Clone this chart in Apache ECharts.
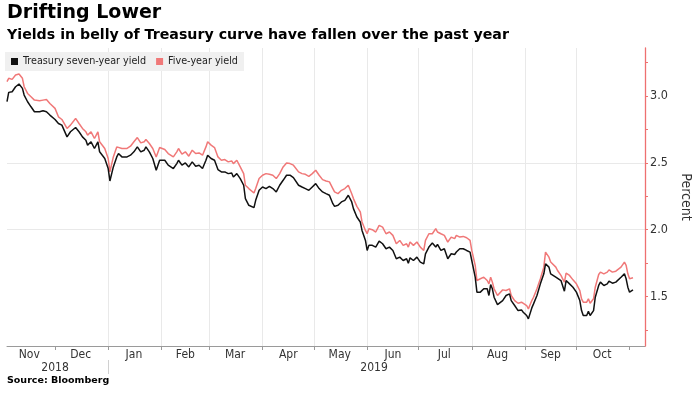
<!DOCTYPE html>
<html>
<head>
<meta charset="utf-8">
<script src="https://cdn.jsdelivr.net/npm/echarts@6/dist/echarts.min.js"></script>
<style>
html,body{margin:0;padding:0;background:#fff;}
#chart{width:692px;height:395px;}
</style>
</head>
<body>
<div id="chart"></div>
<script>
// ---- Data ----
const dates = [
'2018-11-03','2018-11-04','2018-11-06','2018-11-08','2018-11-10','2018-11-12','2018-11-13','2018-11-15','2018-11-17','2018-11-19','2018-11-20','2018-11-22','2018-11-24','2018-11-26','2018-11-28',
'2018-12-01','2018-12-03','2018-12-05','2018-12-08','2018-12-10','2018-12-13','2018-12-15','2018-12-17','2018-12-19','2018-12-20','2018-12-22','2018-12-24','2018-12-26','2018-12-27','2018-12-30',
'2019-01-01','2019-01-02','2019-01-04','2019-01-06','2019-01-07','2019-01-09','2019-01-10','2019-01-12','2019-01-14','2019-01-16','2019-01-18','2019-01-20','2019-01-22','2019-01-23','2019-01-25','2019-01-27','2019-01-29','2019-01-31',
'2019-02-03','2019-02-05','2019-02-06',
'2019-02-08','2019-02-10','2019-02-11','2019-02-13','2019-02-15','2019-02-17','2019-02-19','2019-02-21','2019-02-23','2019-02-25',
'2019-02-27','2019-02-28',
'2019-03-02','2019-03-04','2019-03-06','2019-03-08','2019-03-10','2019-03-12','2019-03-14','2019-03-15','2019-03-17','2019-03-19',
'2019-03-21','2019-03-22','2019-03-24','2019-03-25','2019-03-27','2019-03-28',
'2019-03-30','2019-04-01','2019-04-03','2019-04-05','2019-04-07','2019-04-09','2019-04-11','2019-04-13','2019-04-15','2019-04-17','2019-04-19','2019-04-20','2019-04-22','2019-04-24','2019-04-26','2019-04-28','2019-04-30','2019-05-02','2019-05-04','2019-05-06','2019-05-08','2019-05-10','2019-05-12',
'2019-05-13',
'2019-05-15','2019-05-17','2019-05-19','2019-05-21','2019-05-23','2019-05-24','2019-05-26',
'2019-05-28','2019-05-29','2019-05-31','2019-06-01','2019-06-02',
'2019-06-04','2019-06-06','2019-06-08','2019-06-10','2019-06-12','2019-06-14','2019-06-16','2019-06-18','2019-06-20','2019-06-22','2019-06-24',
'2019-06-25','2019-06-26','2019-06-28','2019-06-30','2019-07-02','2019-07-04','2019-07-05',
'2019-07-07','2019-07-09','2019-07-11','2019-07-12','2019-07-14','2019-07-16','2019-07-18','2019-07-20','2019-07-22','2019-07-23','2019-07-25','2019-07-27',
'2019-07-29','2019-07-31','2019-08-01','2019-08-03','2019-08-04','2019-08-06','2019-08-08','2019-08-10','2019-08-11','2019-08-12','2019-08-13','2019-08-14','2019-08-16','2019-08-17',
'2019-08-19','2019-08-21','2019-08-23','2019-08-24','2019-08-26','2019-08-28','2019-08-30','2019-08-31','2019-09-02','2019-09-03',
'2019-09-05','2019-09-06','2019-09-08','2019-09-10','2019-09-12',
'2019-09-13','2019-09-15','2019-09-16','2019-09-17','2019-09-19','2019-09-20','2019-09-22','2019-09-23','2019-09-24','2019-09-25',
'2019-09-27','2019-09-29','2019-10-01','2019-10-03','2019-10-04','2019-10-05','2019-10-07','2019-10-08','2019-10-09','2019-10-11',
'2019-10-12','2019-10-14','2019-10-15','2019-10-17','2019-10-19','2019-10-20','2019-10-22','2019-10-24','2019-10-25','2019-10-27',
'2019-10-29','2019-10-30','2019-10-31','2019-11-01','2019-11-03'
];

const sevenYear = [
2.958,3.028,3.033,3.07,3.09,3.058,3.008,2.958,2.92,2.883,2.895,2.883,2.89,2.883,2.858,
2.825,2.795,2.783,2.695,2.733,2.765,2.733,2.695,2.67,2.633,2.658,2.608,2.658,2.583,2.533,
2.458,2.365,2.47,2.545,2.57,2.545,2.558,2.545,2.558,2.583,2.62,2.583,2.595,2.62,2.583,2.533,2.445,2.52,
2.52,2.483,2.47,
2.458,2.495,2.52,2.483,2.5,2.47,2.508,2.475,2.483,2.458,
2.52,2.558,
2.533,2.52,2.45,2.433,2.433,2.42,2.425,2.395,2.42,2.383,
2.333,2.233,2.183,2.195,2.165,2.22,
2.295,2.32,2.308,2.325,2.308,2.283,2.333,2.37,2.408,2.408,2.39,2.383,2.333,2.32,2.308,2.295,2.32,2.345,2.308,2.283,2.27,2.258,2.195,
2.175,
2.183,2.208,2.22,2.258,2.208,2.158,2.095,
2.058,1.995,1.92,1.845,1.883,
1.883,1.87,1.915,1.895,1.858,1.87,1.845,1.783,1.795,1.77,1.783,
1.75,1.79,1.77,1.795,1.758,1.745,1.82,
1.87,1.9,1.87,1.89,1.845,1.858,1.783,1.82,1.815,1.833,1.858,1.858,
1.845,1.833,1.77,1.645,1.533,1.533,1.558,1.558,1.508,1.59,1.558,1.495,1.44,1.433,
1.47,1.508,1.52,1.47,1.433,1.395,1.4,1.383,1.358,1.333,
1.415,1.445,1.508,1.595,1.67,
1.745,1.72,1.67,1.683,1.645,1.65,1.62,1.608,1.54,1.62,
1.595,1.57,1.533,1.47,1.395,1.358,1.358,1.39,1.358,1.395,
1.495,1.583,1.608,1.583,1.595,1.615,1.6,1.608,1.608,1.645,
1.67,1.633,1.57,1.533,1.55
];

const fiveYear = [
3.108,3.133,3.125,3.158,3.165,3.133,3.07,3.02,2.995,2.97,2.975,2.965,2.97,2.975,2.945,
2.908,2.845,2.825,2.758,2.783,2.833,2.795,2.758,2.733,2.708,2.733,2.683,2.733,2.658,2.608,
2.533,2.433,2.545,2.62,2.633,2.608,2.62,2.608,2.625,2.658,2.69,2.65,2.658,2.675,2.645,2.608,2.545,2.615,
2.6,2.57,2.558,
2.545,2.583,2.608,2.565,2.583,2.55,2.595,2.57,2.575,2.558,
2.62,2.658,
2.633,2.615,2.545,2.52,2.525,2.508,2.515,2.495,2.52,2.47,
2.42,2.333,2.308,2.295,2.275,2.308,
2.383,2.408,2.42,2.415,2.408,2.383,2.42,2.47,2.5,2.495,2.483,2.47,2.433,2.42,2.415,2.4,2.42,2.445,2.408,2.375,2.365,2.358,2.308,
2.283,
2.27,2.295,2.308,2.333,2.27,2.233,2.175,
2.133,2.058,1.995,1.97,2.008,
2.0,1.983,2.033,2.02,1.97,1.983,1.958,1.895,1.92,1.883,1.895,
1.87,1.908,1.883,1.908,1.87,1.845,1.92,
1.97,1.97,2.008,1.983,1.97,1.958,1.908,1.945,1.933,1.958,1.945,1.95,
1.94,1.92,1.845,1.733,1.62,1.633,1.645,1.62,1.595,1.645,1.608,1.558,1.508,1.515,
1.55,1.545,1.558,1.508,1.47,1.45,1.458,1.445,1.433,1.408,
1.47,1.495,1.558,1.633,1.72,
1.833,1.795,1.758,1.75,1.72,1.695,1.658,1.633,1.608,1.675,
1.658,1.625,1.595,1.545,1.483,1.458,1.458,1.483,1.45,1.483,
1.57,1.665,1.683,1.67,1.683,1.7,1.683,1.69,1.69,1.72,
1.758,1.733,1.67,1.633,1.64
];

const seriesNames = ['Treasury seven-year yield', 'Five-year yield'];
const monthTicks = ['2018-12-01','2019-01-01','2019-02-01','2019-03-01','2019-04-01','2019-05-01','2019-06-01','2019-07-01','2019-08-01','2019-09-01','2019-10-01','2019-11-01'];
const monthLabelDates = ['2018-11-16','2018-12-16','2019-01-16','2019-02-15','2019-03-16','2019-04-16','2019-05-16','2019-06-16','2019-07-16','2019-08-16','2019-09-16','2019-10-16'];
const monthLabels = ['Nov','Dec','Jan','Feb','Mar','Apr','May','Jun','Jul','Aug','Sep','Oct'];
const yearLabelDates = ['2018-12-01','2019-06-05'];
const yearLabels = ['2018','2019'];
const yearSeparator = ['2019-01-01'];
const xMin = '2018-11-03';
const xMax = '2019-11-10';
const yMin = 1.13, yMax = 3.36;
const yTickValues = [1.25,1.5,1.75,2.0,2.25,2.5,2.75,3.0,3.25];
const yLabelValues = [1.5,2.0,2.5,3.0];

// ---- Build ----
const P = v => +echarts.time.parse(v);
const monthLabelMap = {};
monthLabelDates.forEach((d, i) => { monthLabelMap[P(d)] = monthLabels[i]; });
const yearLabelMap = {};
yearLabelDates.forEach((d, i) => { yearLabelMap[P(d)] = yearLabels[i]; });

const sevenData = dates.map((d, i) => [P(d), sevenYear[i]]);
const fiveData = dates.map((d, i) => [P(d), fiveYear[i]]);

const condensed = "'DejaVu Sans Condensed', 'Liberation Sans Narrow', 'Liberation Sans', sans-serif";
const boldFont = "'DejaVu Sans', sans-serif";
const axisRed = '#ee7070';

const chart = echarts.init(document.getElementById('chart'), null, {renderer: 'canvas'});
chart.setOption({
  animation: false,
  backgroundColor: '#ffffff',
  title: [
    {text: 'Drifting Lower', left: 7, top: 4, padding: 0,
     textStyle: {fontFamily: boldFont, fontSize: 19, fontWeight: 'bold', color: '#000'}},
    {text: 'Yields in belly of Treasury curve have fallen over the past year', left: 7, top: 28, padding: 0,
     textStyle: {fontFamily: boldFont, fontSize: 14.2, fontWeight: 'bold', color: '#000'}},
    {text: 'Source: Bloomberg', left: 7, top: 376, padding: 0,
     textStyle: {fontFamily: boldFont, fontSize: 9.5, fontWeight: 'bold', color: '#000'}}
  ],
  legend: {
    data: seriesNames,
    left: 5, top: 52,
    icon: 'rect', itemWidth: 7, itemHeight: 7, itemGap: 10,
    backgroundColor: '#f0f0f0',
    padding: [4, 6, 4, 6],
    textStyle: {fontFamily: condensed, fontSize: 10.7, color: '#222'}
  },
  grid: {left: 7, right: 47, top: 48, bottom: 49, containLabel: false, outerBoundsMode: 'none'},
  xAxis: [
    {
      type: 'value', min: P(xMin), max: P(xMax), scale: true,
      axisLine: {show: true, onZero: false, lineStyle: {color: '#9a9a9a', width: 1}},
      axisTick: {show: true, length: 4, customValues: monthTicks.map(P), lineStyle: {color: '#9a9a9a'}},
      splitLine: {show: true, showMinLine: false, showMaxLine: false, lineStyle: {color: '#e9e9e9', width: 1}},
      axisLabel: {
        show: true, customValues: monthLabelDates.map(P), margin: 3,
        fontFamily: condensed, fontSize: 12, color: '#333',
        formatter: v => monthLabelMap[v] || ''
      }
    },
    {
      type: 'value', min: P(xMin), max: P(xMax), scale: true, position: 'bottom', offset: 14,
      axisLine: {show: false, onZero: false},
      axisTick: {show: true, length: 14, customValues: yearSeparator.map(P), lineStyle: {color: '#d0d0d0'}},
      splitLine: {show: false},
      axisLabel: {
        show: true, customValues: yearLabelDates.map(P), margin: 2,
        fontFamily: condensed, fontSize: 12, color: '#333',
        formatter: v => yearLabelMap[v] || ''
      }
    }
  ],
  yAxis: [
    {
      type: 'value', position: 'right', min: yMin, max: yMax, z: 10,
      name: 'Percent', nameLocation: 'middle', nameRotate: -90, nameGap: 33,
      nameTextStyle: {fontFamily: condensed, fontSize: 14, color: '#333'},
      axisLine: {show: true, onZero: false, lineStyle: {color: axisRed, width: 1.3}},
      axisTick: {show: true, inside: false, length: 3, customValues: yTickValues, lineStyle: {color: axisRed}},
      splitLine: {show: false},
      axisLabel: {show: true, customValues: yLabelValues, margin: 5,
        fontFamily: condensed, fontSize: 12.5, color: '#333',
        formatter: v => v.toFixed(1)}
    },
    {
      type: 'value', position: 'right', min: yMin, max: yMax, z: 0,
      axisLine: {show: false},
      axisTick: {show: false, customValues: yLabelValues},
      axisLabel: {show: false, customValues: yLabelValues},
      splitLine: {show: true, showMinLine: false, showMaxLine: false, lineStyle: {color: '#e9e9e9', width: 1}}
    }
  ],
  series: [
    {name: seriesNames[0], type: 'line', data: sevenData, showSymbol: false, symbol: 'none',
     xAxisIndex: 0, yAxisIndex: 0, color: '#111111',
     lineStyle: {width: 1.5, color: '#111111'}, z: 3},
    {name: seriesNames[1], type: 'line', data: fiveData, showSymbol: false, symbol: 'none',
     xAxisIndex: 0, yAxisIndex: 0, color: '#f07878',
     lineStyle: {width: 1.5, color: '#f07878'}, z: 2}
  ]
});
</script>
</body>
</html>
